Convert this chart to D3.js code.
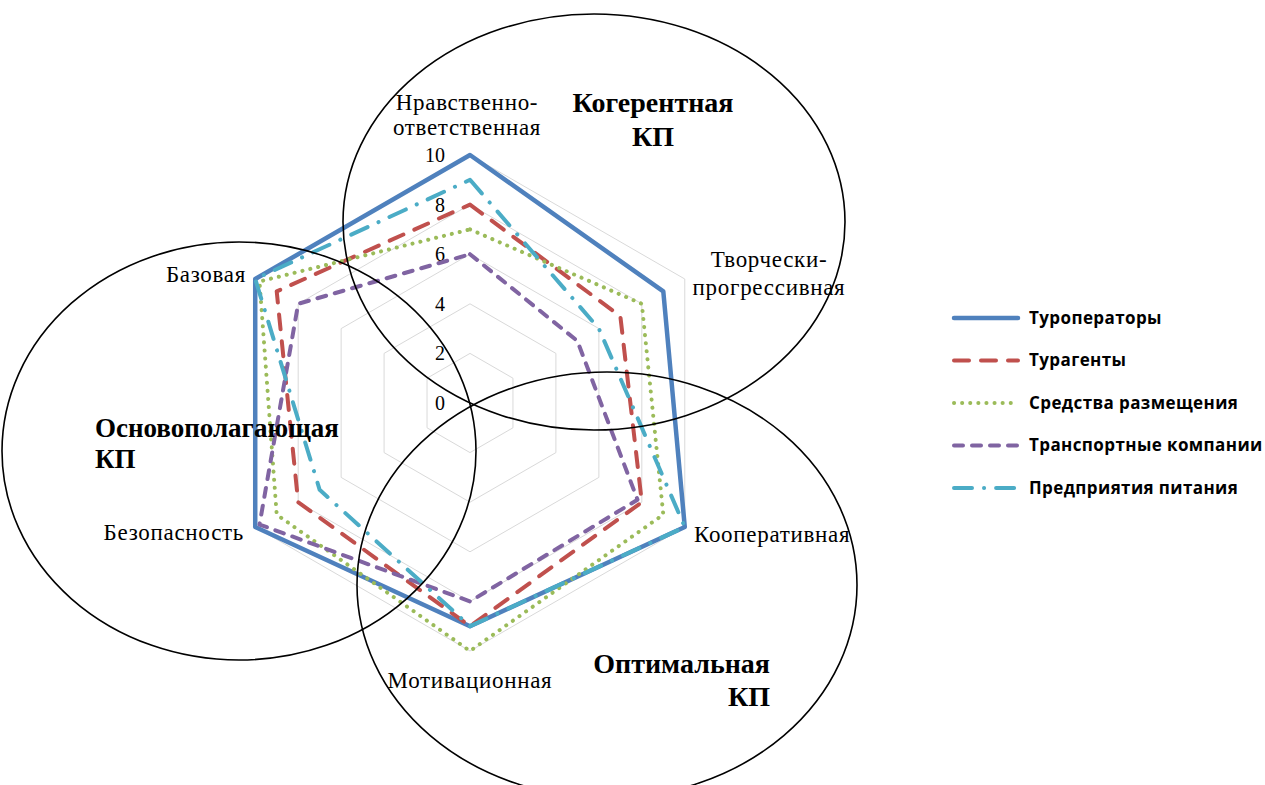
<!DOCTYPE html>
<html lang="ru">
<head>
<meta charset="utf-8">
<script src="https://cdn.jsdelivr.net/npm/d3@7"></script>
<style>
  html, body { margin: 0; padding: 0; background: #fff; }
  svg { display: block; }
</style>
</head>
<body>
<svg id="chart" width="1265" height="785"></svg>
<script>
// Axes of the radar, clockwise from the top; each label may wrap onto two lines
const categories = [
  ["Нравственно-", "ответственная"],
  ["Творчески-", "прогрессивная"],
  ["Кооперативная"],
  ["Мотивационная"],
  ["Безопасность"],
  ["Базовая"]
];

// Series names (legend order) and their scores on each axis
const seriesNames = [
  "Туроператоры",
  "Турагенты",
  "Средства размещения",
  "Транспортные компании",
  "Предприятия питания"
];
const tourOperators = [10, 9, 10, 9, 10, 10];
const travelAgents  = [8, 7, 8, 9, 8, 9];
const accommodation = [7, 8, 9, 10, 9, 9.8];
const transport     = [6, 5, 7.8, 8, 9.8, 8];
const catering      = [9, 6, 10, 9, 7, 10];

// Value axis
const tickValues = [0, 2, 4, 6, 8, 10];
const gridLevels = [2, 4, 6, 8, 10];

// Competence-profile groupings drawn as outlines over the radar
const groupTitles = [
  ["Когерентная", "КП"],
  ["Основополагающая", "КП"],
  ["Оптимальная", "КП"]
];

const seriesValues = [tourOperators, travelAgents, accommodation, transport, catering];

// ---------------------------------------------------------------
const svg = d3.select("#chart");
const cx = 470, cy = 403, R = 248;
const serif = "'Liberation Serif', 'Times New Roman', serif";
const sans = "'Open Sans', 'Noto Sans', sans-serif";

const r = d3.scaleLinear().domain([0, 10]).range([0, R]);
const angle = d3.scaleLinear().domain([0, categories.length]).range([0, 2 * Math.PI]);
const pt = (i, v) => [cx + r(v) * Math.sin(angle(i)), cy - r(v) * Math.cos(angle(i))];

const styles = [
  { color: "#4F81BD", width: 4.5, dash: null },
  { color: "#C0504D", width: 4,   dash: "15,12" },
  { color: "#9BBB59", width: 4,   dash: "0.1,8" },
  { color: "#8064A2", width: 4,   dash: "9,9" },
  { color: "#4BACC6", width: 4,   dash: "18,12,0.1,12" }
];

svg.append("rect").attr("width", 1265).attr("height", 785).attr("fill", "#fff");

// Grid hexagons
const idx = d3.range(categories.length);
svg.append("g").selectAll("path").data(gridLevels).join("path")
  .attr("d", lv => d3.line()(idx.map(i => pt(i, lv))) + "Z")
  .attr("fill", "none").attr("stroke", "#D9D9D9").attr("stroke-width", 1);

// Value tick labels along the top axis
svg.append("g").selectAll("text").data(tickValues).join("text")
  .attr("x", cx - 25).attr("y", v => cy - r(v))
  .attr("dy", "0.35em").attr("text-anchor", "end")
  .attr("font-family", serif).attr("font-size", 20).attr("fill", "#000")
  .text(d => d);

// Series polygons
const radarLine = d3.lineRadial()
  .angle((d, i) => angle(i))
  .radius(d => r(d))
  .curve(d3.curveLinearClosed);

svg.append("g").attr("transform", `translate(${cx},${cy})`)
  .selectAll("path").data(seriesValues).join("path")
  .attr("d", d => radarLine(d))
  .attr("fill", "none")
  .attr("stroke", (d, i) => styles[i].color)
  .attr("stroke-width", (d, i) => styles[i].width)
  .attr("stroke-dasharray", (d, i) => styles[i].dash)
  .attr("stroke-linecap", (d, i) => styles[i].dash ? "round" : "butt")
  .attr("stroke-linejoin", "round");

// Axis category labels
const catPlace = [
  { x: 467, y: 110, anchor: "middle", lh: 25 },
  { x: 769, y: 267, anchor: "middle", lh: 28 },
  { x: 694, y: 542, anchor: "start",  lh: 0 },
  { x: 470, y: 688, anchor: "middle", lh: 0 },
  { x: 244, y: 540, anchor: "end",    lh: 0 },
  { x: 246, y: 282, anchor: "end",    lh: 0 }
];
const catG = svg.append("g").attr("font-family", serif).attr("font-size", 23)
  .attr("letter-spacing", 0.7).attr("fill", "#000");
categories.forEach((lines, i) => {
  const p = catPlace[i];
  const t = catG.append("text").attr("text-anchor", p.anchor);
  lines.forEach((ln, k) => t.append("tspan").attr("x", p.x).attr("y", p.y + k * p.lh).text(ln));
});

// Group outlines
const groupShapes = [
  { cx: 594, cy: 222, rx: 251, ry: 208 },
  { cx: 239, cy: 451, rx: 237, ry: 209 },
  { cx: 607, cy: 585, rx: 250, ry: 213 }
];
svg.append("g").selectAll("ellipse").data(groupShapes).join("ellipse")
  .attr("cx", d => d.cx).attr("cy", d => d.cy)
  .attr("rx", d => d.rx).attr("ry", d => d.ry)
  .attr("fill", "none").attr("stroke", "#000").attr("stroke-width", 1.6);

// Group titles
const titlePlace = [
  { x: 653, y: 112, anchor: "middle", lh: 34, size: 28 },
  { x: 95,  y: 437, anchor: "start",  lh: 31, size: 27 },
  { x: 770, y: 673, anchor: "end",    lh: 33, size: 28 }
];
const titleG = svg.append("g").attr("font-family", serif)
  .attr("font-weight", "bold").attr("fill", "#000");
groupTitles.forEach((lines, i) => {
  const p = titlePlace[i];
  const t = titleG.append("text").attr("text-anchor", p.anchor).attr("font-size", p.size);
  lines.forEach((ln, k) => t.append("tspan").attr("x", p.x).attr("y", p.y + k * p.lh).text(ln));
});

// Legend
const legendY = d3.scalePoint().domain(seriesNames).range([318, 488]);
const leg = svg.append("g");
seriesNames.forEach((name, i) => {
  const y = legendY(name);
  const s = styles[i];
  leg.append("line")
    .attr("x1", 954).attr("x2", 1018).attr("y1", y).attr("y2", y)
    .attr("stroke", s.color).attr("stroke-width", s.width)
    .attr("stroke-dasharray", s.dash)
    .attr("stroke-linecap", "round");
  leg.append("text")
    .attr("x", 1029).attr("y", y).attr("dy", "0.35em")
    .attr("font-family", sans).attr("font-size", 17).attr("font-weight", 700)
    .attr("letter-spacing", 0.4)
    .attr("fill", "#000")
    .text(name);
});
</script>
</body>
</html>
